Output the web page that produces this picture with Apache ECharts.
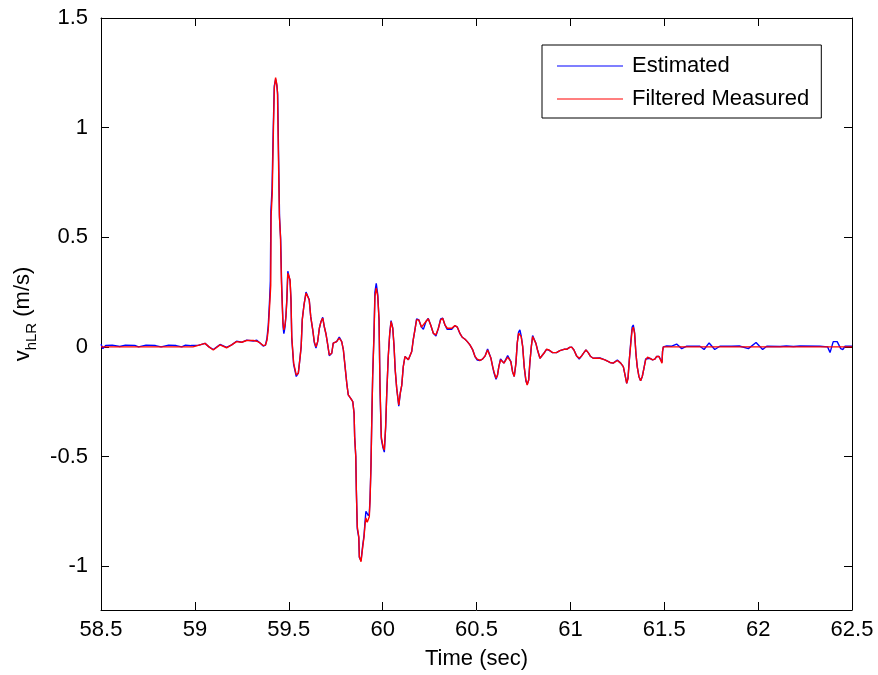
<!DOCTYPE html>
<html>
<head>
<meta charset="utf-8">
<title>vhLR estimate vs filtered measurement</title>
<script src="https://cdn.jsdelivr.net/npm/echarts@6/dist/echarts.min.js"></script>
<style>
  html, body { margin: 0; padding: 0; background: #fff; }
  #chart { width: 878px; height: 675px; }
</style>
</head>
<body>
<div id="chart"></div>
<script>
// Axis ticks
const xTicks = [58.5, 59, 59.5, 60, 60.5, 61, 61.5, 62, 62.5];
const yTicks = [-1, -0.5, 0, 0.5, 1, 1.5];

// Filtered measured velocity, [time (s), v (m/s)]
const filteredMeasured = [
  [58.5, 0], [58.99, 0], [59.018, 0.007], [59.054, 0.016], [59.075, 0.0], [59.098, -0.014],
  [59.134, 0.009], [59.169, -0.004], [59.196, 0.009], [59.222, 0.024], [59.249, 0.021],
  [59.276, 0.029], [59.311, 0.029], [59.330, 0.026], [59.347, 0.018], [59.364, 0.006],
  [59.376, 0.008], [59.384, 0.03], [59.391, 0.08], [59.400, 0.215], [59.404, 0.28],
  [59.406, 0.595], [59.412, 0.70], [59.418, 0.976], [59.423, 1.18], [59.430, 1.228],
  [59.436, 1.20], [59.440, 1.16], [59.444, 0.93], [59.450, 0.60], [59.456, 0.50],
  [59.461, 0.30], [59.465, 0.20], [59.469, 0.108], [59.474, 0.078], [59.480, 0.10],
  [59.485, 0.14], [59.490, 0.215], [59.495, 0.336], [59.501, 0.336], [59.507, 0.306],
  [59.512, 0.215], [59.516, 0.047], [59.526, -0.074], [59.540, -0.128], [59.551, -0.12],
  [59.560, -0.05], [59.566, 0.0], [59.572, 0.123], [59.581, 0.19], [59.592, 0.245],
  [59.599, 0.252], [59.609, 0.215], [59.617, 0.138], [59.628, 0.078], [59.636, 0.024],
  [59.645, 0.0], [59.654, 0.024], [59.663, 0.085], [59.672, 0.116], [59.681, 0.131],
  [59.689, 0.093], [59.698, 0.06], [59.705, 0.024], [59.716, -0.037], [59.729, -0.029],
  [59.737, 0.017], [59.755, 0.024], [59.769, 0.04], [59.782, 0.024], [59.791, -0.014],
  [59.800, -0.09], [59.809, -0.166], [59.817, -0.219], [59.830, -0.235], [59.841, -0.25],
  [59.848, -0.303], [59.851, -0.41], [59.857, -0.50], [59.860, -0.653], [59.865, -0.82],
  [59.873, -0.866], [59.876, -0.957], [59.885, -0.98], [59.894, -0.912], [59.901, -0.866],
  [59.906, -0.813], [59.911, -0.78], [59.918, -0.80], [59.924, -0.805], [59.929, -0.775],
  [59.933, -0.70], [59.938, -0.546], [59.942, -0.348], [59.947, -0.135], [59.954, 0.047],
  [59.959, 0.23], [59.966, 0.268], [59.974, 0.23], [59.981, 0.123], [59.986, -0.18],
  [59.993, -0.41], [60.002, -0.455], [60.009, -0.47], [60.016, -0.364], [60.022, -0.211],
  [60.030, -0.044], [60.038, 0.063], [60.045, 0.116], [60.054, 0.085], [60.061, 0.001],
  [60.067, -0.105], [60.075, -0.189], [60.086, -0.265], [60.094, -0.211], [60.102, -0.174],
  [60.110, -0.09], [60.119, -0.044], [60.128, -0.041], [60.137, -0.059], [60.146, -0.059],
  [60.155, -0.021], [60.163, 0.032], [60.172, 0.078], [60.181, 0.123], [60.193, 0.123],
  [60.207, 0.09], [60.217, 0.085], [60.231, 0.116], [60.243, 0.128], [60.256, 0.10],
  [60.270, 0.062], [60.284, 0.055], [60.297, 0.085], [60.309, 0.123], [60.320, 0.131],
  [60.332, 0.10], [60.344, 0.085], [60.368, 0.085], [60.385, 0.097], [60.398, 0.09],
  [60.412, 0.062], [60.424, 0.044], [60.439, 0.035], [60.451, 0.024], [60.465, 0.009],
  [60.480, -0.014], [60.492, -0.044], [60.504, -0.056], [60.519, -0.062], [60.532, -0.056],
  [60.546, -0.041], [60.559, -0.014], [60.568, -0.017], [60.577, -0.052], [60.586, -0.09],
  [60.593, -0.113], [60.604, -0.143], [60.612, -0.128], [60.619, -0.09], [60.628, -0.059],
  [60.637, -0.062], [60.646, -0.074], [60.655, -0.067], [60.666, -0.047], [60.674, -0.044],
  [60.683, -0.067], [60.692, -0.113], [60.701, -0.135], [60.710, -0.074], [60.717, 0.017],
  [60.724, 0.062], [60.731, 0.07], [60.738, 0.047], [60.746, 0.001], [60.754, -0.09],
  [60.763, -0.151], [60.770, -0.174], [60.778, -0.151], [60.784, -0.074], [60.792, 0.001],
  [60.799, 0.047], [60.807, 0.044], [60.816, 0.017], [60.825, -0.014], [60.838, -0.052],
  [60.848, -0.056], [60.859, -0.029], [60.873, -0.011], [60.887, -0.014], [60.905, -0.026],
  [60.926, -0.026], [60.944, -0.017], [60.966, -0.011], [60.980, -0.011], [60.994, -0.003],
  [61.007, -0.001], [61.019, -0.014], [61.033, -0.041], [61.047, -0.052], [61.060, -0.041],
  [61.072, -0.026], [61.083, -0.014], [61.095, -0.026], [61.108, -0.044], [61.122, -0.052],
  [61.157, -0.052], [61.184, -0.059], [61.211, -0.071], [61.228, -0.074], [61.250, -0.062],
  [61.268, -0.074], [61.282, -0.09], [61.291, -0.128], [61.300, -0.166], [61.307, -0.143],
  [61.314, -0.059], [61.322, 0.017], [61.329, 0.078], [61.335, 0.09], [61.342, 0.062],
  [61.349, -0.029], [61.356, -0.09], [61.365, -0.135], [61.374, -0.154], [61.383, -0.135],
  [61.392, -0.097], [61.401, -0.059], [61.411, -0.047], [61.424, -0.052], [61.438, -0.059],
  [61.450, -0.056], [61.459, -0.044], [61.472, -0.044], [61.482, -0.052], [61.488, -0.075],
  [61.491, -0.02], [61.495, 0], [62.5, 0]
];

// Estimated velocity, [time (s), v (m/s)]
const estimated = [
  [58.5, 0.012], [58.51, -0.008], [58.525, 0.006], [58.56, 0.008], [58.60, 0.002],
  [58.63, 0.008], [58.68, 0.007], [58.70, 0.0], [58.74, 0.008], [58.79, 0.006],
  [58.82, 0.0], [58.86, 0.008], [58.90, 0.006], [58.93, 0.0], [58.95, 0.008],
  [58.98, 0.006], [58.99, 0.0], [59.018, 0.007], [59.054, 0.016], [59.075, 0.0],
  [59.098, -0.012], [59.134, 0.011], [59.169, -0.002], [59.196, 0.009], [59.222, 0.026],
  [59.249, 0.021], [59.276, 0.031], [59.311, 0.027], [59.330, 0.030], [59.347, 0.018],
  [59.364, 0.004], [59.376, 0.008], [59.384, 0.04], [59.391, 0.10], [59.398, 0.215],
  [59.402, 0.30], [59.405, 0.62], [59.411, 0.72], [59.417, 0.98], [59.423, 1.19],
  [59.430, 1.22], [59.437, 1.19], [59.441, 1.15], [59.445, 0.92], [59.451, 0.59],
  [59.457, 0.49], [59.462, 0.29], [59.466, 0.19], [59.470, 0.09], [59.474, 0.06],
  [59.480, 0.09], [59.485, 0.14], [59.490, 0.22], [59.495, 0.345], [59.501, 0.34],
  [59.507, 0.30], [59.512, 0.21], [59.516, 0.04], [59.526, -0.08], [59.540, -0.135],
  [59.551, -0.12], [59.560, -0.05], [59.566, 0.0], [59.572, 0.125], [59.581, 0.19],
  [59.592, 0.25], [59.599, 0.255], [59.609, 0.215], [59.617, 0.138], [59.628, 0.075],
  [59.636, 0.02], [59.645, -0.005], [59.654, 0.024], [59.663, 0.085], [59.672, 0.116],
  [59.681, 0.135], [59.689, 0.093], [59.698, 0.06], [59.705, 0.024], [59.716, -0.04],
  [59.729, -0.029], [59.737, 0.017], [59.755, 0.024], [59.769, 0.045], [59.782, 0.024],
  [59.791, -0.014], [59.800, -0.09], [59.809, -0.166], [59.817, -0.219], [59.830, -0.235],
  [59.841, -0.25], [59.848, -0.303], [59.851, -0.41], [59.857, -0.50], [59.860, -0.653],
  [59.865, -0.83], [59.873, -0.87], [59.876, -0.96], [59.885, -0.975], [59.894, -0.905],
  [59.901, -0.86], [59.906, -0.80], [59.911, -0.75], [59.918, -0.76], [59.924, -0.77],
  [59.929, -0.76], [59.933, -0.69], [59.938, -0.54], [59.942, -0.34], [59.947, -0.13],
  [59.954, 0.06], [59.959, 0.25], [59.966, 0.29], [59.974, 0.24], [59.981, 0.12],
  [59.986, -0.19], [59.993, -0.42], [60.002, -0.46], [60.009, -0.48], [60.016, -0.37],
  [60.022, -0.211], [60.030, -0.044], [60.038, 0.063], [60.045, 0.12], [60.054, 0.085],
  [60.061, 0.001], [60.067, -0.105], [60.075, -0.189], [60.086, -0.27], [60.094, -0.211],
  [60.102, -0.174], [60.110, -0.09], [60.119, -0.044], [60.128, -0.041], [60.137, -0.059],
  [60.146, -0.059], [60.155, -0.021], [60.163, 0.032], [60.172, 0.078], [60.181, 0.128],
  [60.193, 0.123], [60.207, 0.09], [60.217, 0.08], [60.231, 0.116], [60.243, 0.13],
  [60.256, 0.10], [60.270, 0.062], [60.284, 0.05], [60.297, 0.085], [60.309, 0.128],
  [60.320, 0.131], [60.332, 0.10], [60.344, 0.08], [60.368, 0.08], [60.385, 0.097],
  [60.398, 0.09], [60.412, 0.06], [60.424, 0.044], [60.439, 0.035], [60.451, 0.024],
  [60.465, 0.009], [60.480, -0.014], [60.492, -0.044], [60.504, -0.06], [60.519, -0.062],
  [60.532, -0.056], [60.546, -0.041], [60.559, -0.01], [60.568, -0.017], [60.577, -0.052],
  [60.586, -0.09], [60.593, -0.118], [60.604, -0.148], [60.612, -0.128], [60.619, -0.09],
  [60.628, -0.055], [60.637, -0.062], [60.646, -0.074], [60.655, -0.067], [60.666, -0.04],
  [60.674, -0.044], [60.683, -0.067], [60.692, -0.113], [60.701, -0.135], [60.710, -0.074],
  [60.717, 0.017], [60.724, 0.066], [60.731, 0.078], [60.738, 0.05], [60.746, 0.001],
  [60.754, -0.09], [60.763, -0.155], [60.770, -0.17], [60.778, -0.151], [60.784, -0.074],
  [60.792, 0.001], [60.799, 0.052], [60.807, 0.044], [60.816, 0.017], [60.825, -0.014],
  [60.838, -0.052], [60.848, -0.056], [60.859, -0.029], [60.873, -0.011], [60.887, -0.016],
  [60.905, -0.026], [60.926, -0.026], [60.944, -0.017], [60.966, -0.011], [60.980, -0.011],
  [60.994, -0.003], [61.007, -0.001], [61.019, -0.014], [61.033, -0.041], [61.047, -0.055],
  [61.060, -0.041], [61.072, -0.026], [61.083, -0.014], [61.095, -0.026], [61.108, -0.044],
  [61.122, -0.052], [61.157, -0.05], [61.184, -0.059], [61.211, -0.071], [61.228, -0.074],
  [61.250, -0.06], [61.268, -0.074], [61.282, -0.09], [61.291, -0.128], [61.300, -0.166],
  [61.307, -0.143], [61.314, -0.059], [61.322, 0.025], [61.329, 0.09], [61.335, 0.10],
  [61.342, 0.065], [61.349, -0.029], [61.356, -0.09], [61.365, -0.135], [61.374, -0.154],
  [61.383, -0.135], [61.392, -0.097], [61.401, -0.055], [61.411, -0.047], [61.424, -0.052],
  [61.438, -0.059], [61.450, -0.056], [61.459, -0.044], [61.472, -0.044], [61.482, -0.052],
  [61.488, -0.07], [61.491, -0.02], [61.495, 0.0], [61.513, 0.004], [61.540, 0.003],
  [61.566, 0.013], [61.593, -0.008], [61.620, 0.003], [61.690, 0.003], [61.712, -0.012],
  [61.739, 0.018], [61.769, -0.012], [61.796, 0.003], [61.858, 0.003], [61.900, 0.004],
  [61.948, -0.008], [61.989, 0.02], [62.024, -0.012], [62.046, 0.003], [62.117, 0.002],
  [62.150, 0.004], [62.188, 0.002], [62.224, 0.004], [62.330, 0.003], [62.370, 0.0],
  [62.383, -0.026], [62.400, 0.024], [62.421, 0.024], [62.440, -0.008], [62.451, -0.012],
  [62.463, 0.003], [62.5, 0.003]
];

const FONT = '"Liberation Sans", Arial, Helvetica, sans-serif';
const FS = 22;

const chart = echarts.init(document.getElementById('chart'), null, { renderer: 'canvas' });

const baseX = {
  type: 'value', min: 58.5, max: 62.5, interval: 0.5,
  axisLine: { show: true, onZero: false, lineStyle: { color: '#000', width: 1 } },
  axisTick: { show: true, inside: true, length: 8, lineStyle: { color: '#000' } },
  splitLine: { show: false }
};
const baseY = {
  type: 'value', min: -1.2, max: 1.5,
  axisLine: { show: true, onZero: false, lineStyle: { color: '#000', width: 1 } },
  axisTick: { show: true, inside: true, length: 8, customValues: yTicks, lineStyle: { color: '#000' } },
  splitLine: { show: false }
};

chart.setOption({
  animation: false,
  backgroundColor: '#fff',
  grid: { left: 101, right: 26, top: 18, bottom: 65, containLabel: false, outerBoundsMode: 'none' },
  legend: {
    orient: 'vertical',
    left: 542, top: 45,
    backgroundColor: '#fff',
    borderColor: '#000', borderWidth: 1, borderRadius: 0,
    padding: [10, 12, 8, 15],
    icon: 'rect',
    itemWidth: 66, itemHeight: 1, itemGap: 11,
    textStyle: { fontFamily: FONT, fontSize: FS, color: '#000', padding: [0, 0, 0, 4] },
    data: ['Estimated', 'Filtered Measured']
  },
  xAxis: [
    Object.assign({}, baseX, {
      position: 'bottom',
      axisLabel: { show: true, margin: 9, fontFamily: FONT, fontSize: FS, color: '#000',
        customValues: xTicks },
      name: 'Time (sec)', nameLocation: 'middle', nameGap: 38,
      nameTextStyle: { fontFamily: FONT, fontSize: FS, color: '#000' }
    }),
    Object.assign({}, baseX, { position: 'top', axisLabel: { show: false } })
  ],
  yAxis: [
    Object.assign({}, baseY, {
      position: 'left',
      axisLabel: { show: true, margin: 13, fontFamily: FONT, fontSize: FS, color: '#000',
        customValues: yTicks },
      name: 'v{sub|hLR} (m/s)', nameLocation: 'middle', nameGap: 62, nameRotate: 90,
      nameTextStyle: {
        fontFamily: FONT, fontSize: FS, color: '#000', lineHeight: 32,
        rich: {
          sub: { fontFamily: FONT, fontSize: 15, color: '#000', lineHeight: 15, verticalAlign: 'bottom' }
        }
      }
    }),
    Object.assign({}, baseY, { position: 'right', axisLabel: { show: false } })
  ],
  series: [
    {
      name: 'Estimated', type: 'line', xAxisIndex: 0, yAxisIndex: 0,
      data: estimated, symbol: 'none', showSymbol: false,
      lineStyle: { color: '#0000ff', width: 1.4 }, itemStyle: { color: '#0000ff' },
      z: 2
    },
    {
      name: 'Filtered Measured', type: 'line', xAxisIndex: 0, yAxisIndex: 0,
      data: filteredMeasured, symbol: 'none', showSymbol: false,
      lineStyle: { color: '#ff0000', width: 1.4 }, itemStyle: { color: '#ff0000' },
      z: 3
    }
  ]
});
</script>
</body>
</html>
